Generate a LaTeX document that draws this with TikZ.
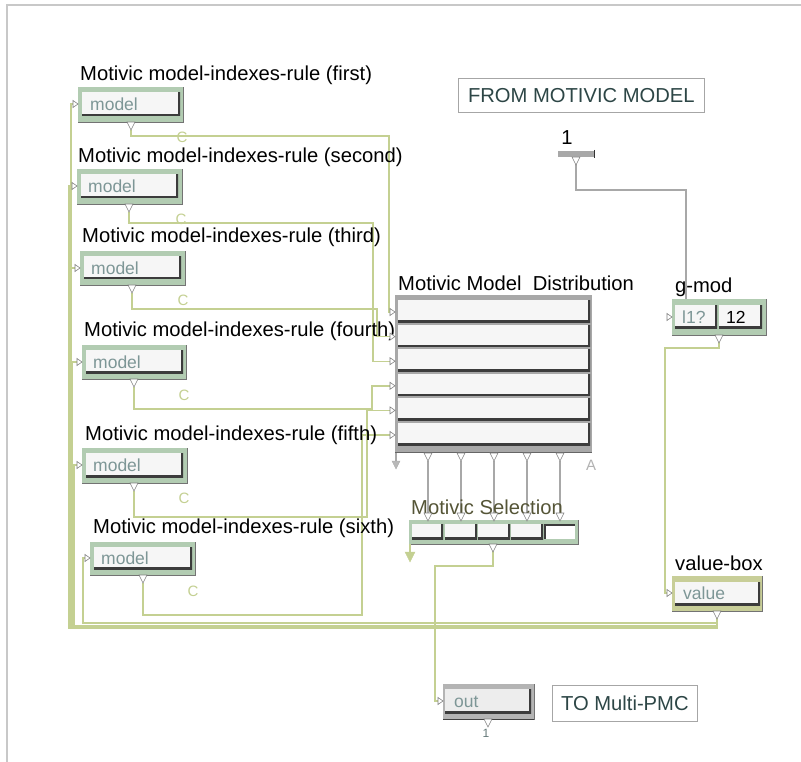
\documentclass[tikz,border=0pt]{standalone}
\usepackage{fontspec}
\setmainfont{Liberation Sans}
\definecolor{sage}{RGB}{178,204,178}
\definecolor{olivebox}{RGB}{200,206,152}
\definecolor{wirec}{RGB}{196,208,146}
\definecolor{greyw}{RGB}{168,168,168}
\definecolor{fieldtxt}{RGB}{125,150,150}
\definecolor{shadowc}{RGB}{60,60,60}
\definecolor{commtxt}{RGB}{45,70,70}
\definecolor{seltxt}{RGB}{85,85,55}
\definecolor{fieldfill}{RGB}{246,246,246}
\definecolor{framec}{RGB}{200,200,200}
\definecolor{outboxc}{RGB}{180,180,180}
\definecolor{distc}{RGB}{168,168,168}
\definecolor{trigc}{RGB}{130,130,130}

% outer panel of a box: name, x1, y1, x2, y2, colour
\newcommand\ombox[6]{%
  \node[boxst, fill=#6, minimum width={(#4-#2)*1pt}, minimum height={(#5-#3)*1pt}] (#1) at (#2,#3) {};
  \draw[edgest] (#2,#5) -- (#4,#5) -- (#4,#3);}
% input field with a dark lower/right edge: name, x1, y1, x2, y2
\newcommand\omfield[5]{%
  \node[fieldst, minimum width={(#4-#2)*1pt}, minimum height={(#5-#3)*1pt}] (#1) at (#2,#3) {};}
% inlet (tip at x,y) and outlet (top at x,y)
\newcommand\inl[2]{\draw[tri] (#1,#2) -- ++(-5,-3.5) -- ++(0,7) -- cycle;}
\newcommand\outl[2]{\draw[tri] (#1,#2) ++(-4,0) -- ++(8,0) -- ++(-4,8) -- cycle;}

\begin{document}
\begin{tikzpicture}[x=1pt,y=-1pt,
  boxst/.style={anchor=north west, inner sep=0, outer sep=0, draw=none},
  edgest/.style={draw=black!55, line width=0.7pt},
  fieldst/.style={anchor=north west, inner sep=0, outer sep=0, fill=fieldfill,
    path picture={\draw[shadowc, line width=4pt]
      (path picture bounding box.south west) -- (path picture bounding box.south east)
      -- (path picture bounding box.north east);}},
  fieldinv/.style={anchor=north west, inner sep=0, outer sep=0, fill=white,
    path picture={\draw[shadowc, line width=4pt]
      (path picture bounding box.south west) -- (path picture bounding box.north west)
      -- (path picture bounding box.north east);}},
  lbl/.style={anchor=west, inner sep=0, font=\fontsize{20.2}{22}\selectfont},
  ftxt/.style={anchor=west, inner sep=0, font=\fontsize{17.5}{20}\selectfont, text=fieldtxt},
  ctxt/.style={inner sep=0, font=\fontsize{15}{17}\selectfont, text=wirec},
  comm/.style={anchor=north west, inner sep=0, draw=black!35, line width=0.7pt, fill=white},
  tri/.style={draw=trigc, fill=white, line width=0.6pt},
  wire/.style={draw=wirec, line width=1.4pt},
  gwire/.style={draw=greyw, line width=1.4pt},
]
\useasboundingbox (0,0) rectangle (801,762);
\fill[white] (0,0) rectangle (801,762);

% window frame
\draw[framec, line width=2pt] (801,5) -- (7,5) -- (7,762);

% ---------- connection points ----------
\coordinate (m1o) at (131,130); \coordinate (m1i) at (73,104);
\coordinate (m2o) at (129,212); \coordinate (m2i) at (72,186);
\coordinate (m3o) at (132,293); \coordinate (m3i) at (75,268);
\coordinate (m4o) at (134,387); \coordinate (m4i) at (77,362);
\coordinate (m5o) at (134,491); \coordinate (m5i) at (77,465);
\coordinate (m6o) at (143,583); \coordinate (m6i) at (85,558);
\foreach \i/\y in {1/312,2/336.6,3/361.2,4/385.8,5/410.4,6/435}
  \coordinate (d\i i) at (390,\y);
\foreach \i/\x in {1/428,2/461,3/494,4/527,5/560}{
  \coordinate (d\i o) at (\x,461);
  \coordinate (s\i i) at (\x,513);}
\coordinate (selo) at (493,551);
\coordinate (outi) at (438,701);
\coordinate (vbo) at (717,618);
\coordinate (vbi) at (667,593);
\coordinate (gmo) at (719,342);
\coordinate (gmi) at (686,299);
\coordinate (onei) at (576,164);

% ---------- connections ----------
\draw[wire] (m1o) |- (389,136) |- (d1i);
\draw[wire] (m2o) |- (373,223) |- (d3i);
\draw[wire] (m3o) |- (377,309) |- (d2i);
\draw[wire] (m4o) |- (372,409) |- (d4i);
\draw[wire] (m5o) |- (367,517) |- (d5i);
\draw[wire] (m6o) |- (362,615) |- (d6i);

\draw[wire] (vbo) |- (71,627) |- (m1i);
\draw[wire] (vbo) |- (69,628.5) |- (m2i);
\draw[wire] (vbo) |- (70.5,627.5) |- (m3i);
\draw[wire] (vbo) |- (72.5,626.5) |- (m4i);
\draw[wire] (vbo) |- (74,626) |- (m5i);
\draw[wire] (vbo) |- (83,623) |- (m6i);

\draw[wire] (gmo) |- (665,348) |- (vbi);
\draw[wire] (selo) |- (435,566) |- (outi);
\draw[gwire] (onei) |- (686,190) -- (gmi);
\foreach \i in {1,...,5} \draw[gwire] (d\i o) -- (s\i i);

% ---------- model boxes ----------
\node[lbl] (l1) at (80,75) {Motivic model-indexes-rule (first)};
\ombox{b1}{78}{87}{183}{122}{sage}
\omfield{f1}{82}{92}{180}{116}
\node[ftxt] (t1) at (90,104) {model};
\inl{78}{104} \outl{131}{122}
\node[ctxt] (c1) at (182,137) {C};

\node[lbl] (l2) at (78,157) {Motivic model-indexes-rule (second)};
\ombox{b2}{77}{169}{182}{204}{sage}
\omfield{f2}{81}{174}{178}{198}
\node[ftxt] (t2) at (88,186) {model};
\inl{77}{186} \outl{129}{204}
\node[ctxt] (c2) at (181,219) {C};

\node[lbl] (l3) at (82,237) {Motivic model-indexes-rule (third)};
\ombox{b3}{80}{251}{185}{285}{sage}
\omfield{f3}{84}{256}{181}{279}
\node[ftxt] (t3) at (91,268) {model};
\inl{80}{268} \outl{132}{285}
\node[ctxt] (c3) at (183,300) {C};

\node[lbl] (l4) at (84,331) {Motivic model-indexes-rule (fourth)};
\ombox{b4}{82}{345}{186}{379}{sage}
\omfield{f4}{86}{350}{183}{373}
\node[ftxt] (t4) at (93,362) {model};
\inl{82}{362} \outl{134}{379}
\node[ctxt] (c4) at (184,395) {C};

\node[lbl] (l5) at (85,435) {Motivic model-indexes-rule (fifth)};
\ombox{b5}{82}{448}{187}{483}{sage}
\omfield{f5}{86}{453}{183}{477}
\node[ftxt] (t5) at (93,465) {model};
\inl{82}{465} \outl{134}{483}
\node[ctxt] (c5) at (184,498) {C};

\node[lbl] (l6) at (93,528) {Motivic model-indexes-rule (sixth)};
\ombox{b6}{90}{542}{195}{575}{sage}
\omfield{f6}{94}{547}{192}{569}
\node[ftxt] (t6) at (101,558) {model};
\inl{90}{558} \outl{143}{575}
\node[ctxt] (c6) at (193,591) {C};

% ---------- distribution ----------
\node[lbl] (ldist) at (398,283) {Motivic Model\ \ Distribution};
\node[boxst, fill=distc, minimum width=197pt, minimum height=158pt] (dist) at (395,295) {};
\draw[black!60, line width=1pt] (395,452.5) -- (592,452.5);
\foreach \i in {1,...,6}{
  \pgfmathsetmacro\ty{300+24.6*(\i-1)}
  \omfield{r\i}{398}{\ty}{590}{\ty+22}
  \pgfmathsetmacro\cy{\ty+12}
  \inl{395}{\cy}}
\foreach \x in {428,461,494,527,560} \outl{\x}{453}
\draw[gwire] (396,453) -- (396,461);
\draw[draw=greyw, fill=greyw!80] (392,461) -- (400,461) -- (396,469) -- cycle;
\node[ctxt, text=black!30] (aa) at (591,465) {A};

% ---------- selection ----------
\node[lbl, anchor=center, text=seltxt] (lsel) at (487,507) {Motivic Selection};
\ombox{sel}{409}{520}{578}{544}{sage}
\omfield{sf1}{412}{524}{443}{539}
\omfield{sf2}{445}{524}{477}{539}
\omfield{sf3}{478}{524}{510}{539}
\omfield{sf4}{511}{524}{543}{539}
\node[fieldinv, minimum width=31pt, minimum height=15pt] (sf5) at (544,524) {};
\foreach \x in {428,461,494,527,560} \draw[tri] (\x,513) ++(-4,0) -- ++(8,0) -- ++(-4,8) -- cycle;
\outl{493}{544}
\draw[wire] (410,544) -- (410,552);
\draw[draw=wirec, fill=wirec] (405,552) -- (415,552) -- (410,562) -- cycle;

% ---------- constant 1 and g-mod ----------
\node[lbl, anchor=center] (onel) at (567,138) {1};
\node[boxst, fill=greyw, minimum width=37pt, minimum height=6pt] (one) at (558,151) {};
\draw[black!80, line width=1pt] (594.5,150) -- (594.5,158);
\outl{576}{157}

\node[lbl] (lgm) at (675,287) {g-mod};
\ombox{gm}{672}{299}{766}{335}{sage}
\omfield{gf1}{675}{305}{717}{328}
\omfield{gf2}{719}{305}{762}{328}
\node[ftxt] (gt1) at (682,317) {l1?};
\node[ftxt, text=black] (gt2) at (726,317) {12};
\inl{672}{317} \outl{719}{335}

% ---------- value-box ----------
\node[lbl] (lvb) at (675,563) {value-box};
\ombox{vb}{672}{576}{762}{611}{olivebox}
\omfield{vf}{675}{582}{760}{605}
\node[ftxt] (vt) at (683,593) {value};
\inl{672}{593} \outl{717}{611}

% ---------- out ----------
\ombox{ob}{443}{684}{534}{719}{outboxc}
\draw[black!75, line width=1pt] (443,719) -- (534,719);
\node[fieldst, fill=black!7, minimum width=86pt, minimum height=24pt] (of) at (445,689) {};
\node[ftxt] (ot) at (454,702) {out};
\inl{443}{701} \outl{488}{719}
\node[inner sep=0, font=\fontsize{12}{14}\selectfont, text=fieldtxt!80!black] (onum) at (486,733) {1};

% ---------- comments ----------
\node[comm, minimum width=246pt, minimum height=34pt] (from) at (458,78) {};
\node[lbl, anchor=center, text=commtxt] (fromt) at (from.center) {FROM MOTIVIC MODEL};
\node[comm, minimum width=145pt, minimum height=36pt] (to) at (552,685) {};
\node[lbl, anchor=center, text=commtxt] (tot) at (to.center) {TO Multi-PMC};
\end{tikzpicture}
\end{document}
